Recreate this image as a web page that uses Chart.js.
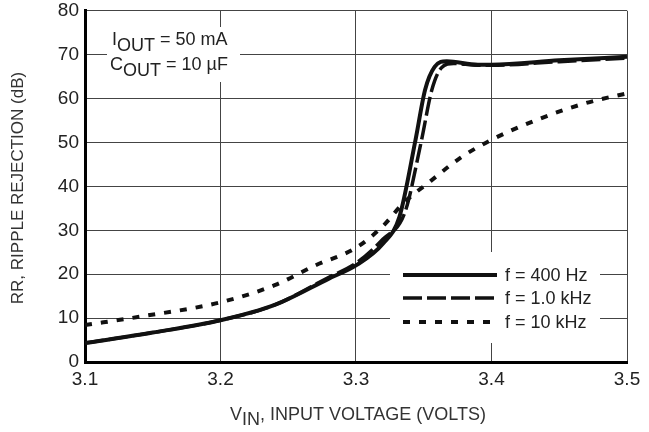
<!DOCTYPE html>
<html>
<head>
<meta charset="utf-8">
<script src="https://cdn.jsdelivr.net/npm/chart.js@4"></script>
<style>
  html, body { margin: 0; padding: 0; background: #fff; }
  #wrap { width: 649px; height: 432px; }
</style>
</head>
<body>
<div id="wrap"><canvas id="rrChart" width="649" height="432"></canvas></div>
<script>
const FONT = "'Liberation Sans Narrow', 'Arial Narrow', 'Liberation Sans', sans-serif";

// f = 400 Hz
const vin400 = [3.10, 3.15, 3.20, 3.24, 3.28, 3.30, 3.32, 3.332, 3.344, 3.351, 3.358, 3.367, 3.39, 3.40, 3.45, 3.50];
const rr400  = [4.3, 6.7, 9.5, 13, 19, 22, 27, 33, 50.7, 62, 67.2, 68.5, 67.7, 67.7, 68.7, 69.5];
// f = 1.0 kHz
const vin1k = [3.10, 3.15, 3.20, 3.24, 3.28, 3.30, 3.32, 3.336, 3.348, 3.356, 3.363, 3.372, 3.39, 3.40, 3.45, 3.50];
const rr1k  = [4.3, 6.7, 9.5, 13, 19.3, 22.5, 28, 34, 50, 62, 67, 68, 67.6, 67.6, 68.4, 69.2];
// f = 10 kHz
const vin10k = [3.10, 3.14, 3.20, 3.24, 3.27, 3.30, 3.32, 3.335, 3.355, 3.377, 3.40, 3.433, 3.47, 3.50];
const rr10k  = [8.4, 10.3, 13.6, 17.5, 22, 26, 31, 36.2, 41.2, 46.5, 50.6, 55.1, 59, 61.2];

const xTicks = [3.1, 3.2, 3.3, 3.4, 3.5];
const yTicks = [0, 10, 20, 30, 40, 50, 60, 70, 80];
const seriesLabels = ['f = 400 Hz', 'f = 1.0 kHz', 'f = 10 kHz'];

function pts(xs, ys) {
    return xs.map((x, i) => ({ x: x, y: ys[i] }));
}

// white boxes that break the grid behind the notes and legend
const gridGaps = {
    id: 'gridGaps',
    beforeDatasetsDraw(chart) {
        const c = chart.ctx;
        c.save();
        c.fillStyle = '#fff';
        c.fillRect(107, 27, 133, 55);
        c.fillRect(390, 252, 210, 91);
        c.restore();
    }
};

function subText(c, parts, x, y) {
    // parts: [text, dy]
    parts.forEach(p => {
        c.fillText(p[0], x, y + p[1]);
        x += c.measureText(p[0]).width;
    });
    return x;
}

const overlay = {
    id: 'overlay',
    afterDraw(chart) {
        const c = chart.ctx;
        c.save();
        c.fillStyle = '#222';
        c.textBaseline = 'alphabetic';
        c.textAlign = 'left';

        // note in top-left corner
        c.font = '18px ' + FONT;
        subText(c, [['I', 0], ['OUT', 6], [' = 50 mA', 0]], 112, 45);
        subText(c, [['C', 0], ['OUT', 6], [' = 10 \u00B5F', 0]], 110, 70);

        // legend, drawn with each dataset's own style
        const rows = [275, 298, 322];
        chart.data.datasets.forEach((ds, i) => {
            c.save();
            c.strokeStyle = ds.borderColor;
            c.lineWidth = ds.borderWidth;
            c.setLineDash(ds.borderDash || []);
            c.beginPath();
            c.moveTo(403, rows[i]);
            c.lineTo(497, rows[i]);
            c.stroke();
            c.restore();
            c.font = '18px ' + FONT;
            c.textBaseline = 'middle';
            c.fillText(ds.label, 505, rows[i] + 1);
        });

        // axis titles
        c.textBaseline = 'alphabetic';
        c.font = '18px ' + FONT;
        c.fillStyle = '#333';
        subText(c, [['V', 0], ['IN', 5], [', INPUT VOLTAGE (VOLTS)', 0]], 230, 420);

        c.font = '17px ' + FONT;
        c.translate(23, 188);
        c.rotate(-Math.PI / 2);
        c.textAlign = 'center';
        c.fillText('RR, RIPPLE REJECTION (dB)', 0, 0);
        c.restore();
    }
};

const ctx = document.getElementById('rrChart').getContext('2d');
const rrChart = new Chart(ctx, {
    type: 'line',
    data: {
        datasets: [{
            label: seriesLabels[0],
            data: pts(vin400, rr400),
            borderColor: '#111',
            borderWidth: 4,
            pointRadius: 0,
            cubicInterpolationMode: 'monotone'
        }, {
            label: seriesLabels[1],
            data: pts(vin1k, rr1k),
            borderColor: '#111',
            borderWidth: 3.5,
            borderDash: [19, 5],
            pointRadius: 0,
            cubicInterpolationMode: 'monotone'
        }, {
            label: seriesLabels[2],
            data: pts(vin10k, rr10k),
            borderColor: '#111',
            borderWidth: 4,
            borderDash: [7, 9],
            pointRadius: 0,
            cubicInterpolationMode: 'monotone'
        }]
    },
    options: {
        responsive: false,
        animation: false,
        layout: { padding: { left: 0, right: 22, top: 2, bottom: 0 } },
        plugins: {
            legend: { display: false },
            tooltip: { enabled: false }
        },
        scales: {
            x: {
                type: 'linear',
                min: 3.1,
                max: 3.5,
                afterFit: s => { s.height = 70; },
                afterBuildTicks: s => { s.ticks = xTicks.map(v => ({ value: v })); },
                grid: { color: '#444', lineWidth: 1, drawTicks: false },
                border: { color: '#000', width: 3 },
                ticks: {
                    padding: 8,
                    color: '#222',
                    font: { family: FONT, size: 19, lineHeight: 1 },
                    callback: v => v.toFixed(1)
                }
            },
            y: {
                min: 0,
                max: 80,
                afterFit: s => { s.width = 85; },
                afterBuildTicks: s => { s.ticks = yTicks.map(v => ({ value: v })); },
                grid: { color: '#444', lineWidth: 1, drawTicks: false },
                border: { color: '#000', width: 3 },
                ticks: {
                    padding: 6,
                    color: '#222',
                    font: { family: FONT, size: 19, lineHeight: 0.5 }
                }
            }
        }
    },
    plugins: [gridGaps, overlay]
});
</script>
</body>
</html>
